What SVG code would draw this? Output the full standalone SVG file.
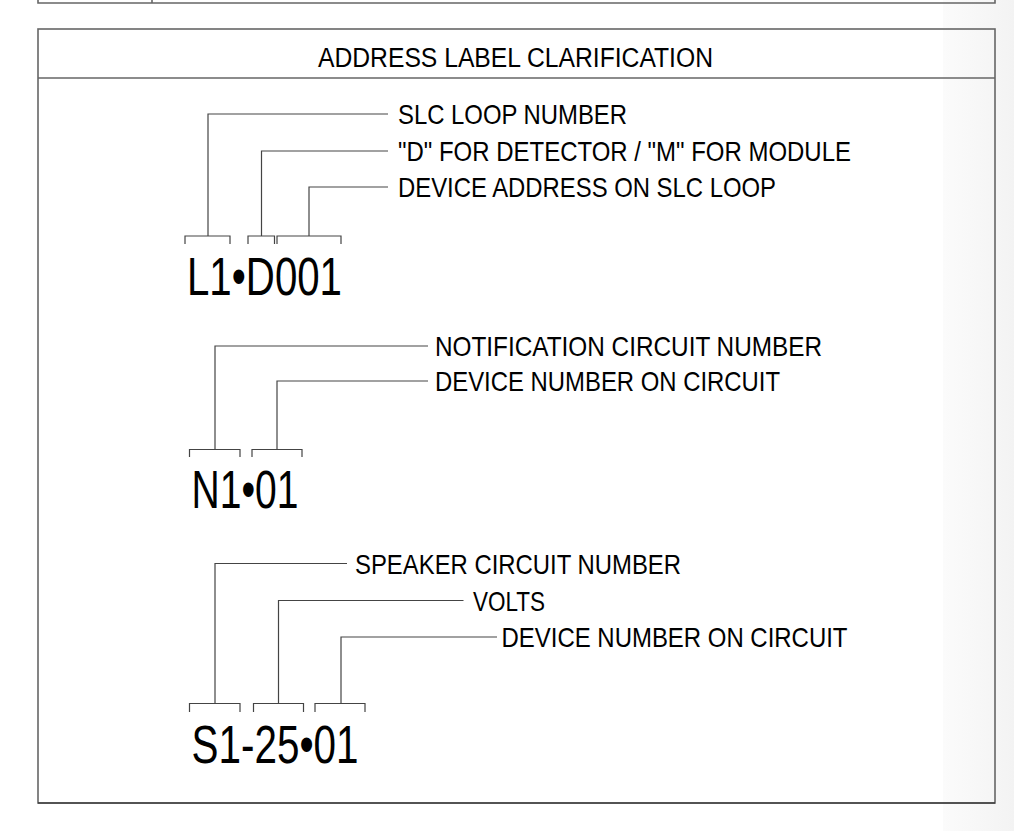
<svg xmlns="http://www.w3.org/2000/svg" width="1014" height="831" viewBox="0 0 1014 831">
<defs>
<linearGradient id="shade" x1="943" y1="0" x2="1014" y2="0" gradientUnits="userSpaceOnUse">
<stop offset="0" stop-color="#fbfbfb"/>
<stop offset="1" stop-color="#f3f3f3"/>
</linearGradient>
<style>
.ln{fill:none;stroke:#444;stroke-width:1.2}
.frame{fill:none;stroke:#666;stroke-width:1.6}
.t{font-family:"Liberation Sans",Arial,sans-serif;fill:#000}
.lbl{font-size:28px}
.big{font-size:53px}
.ttl{font-size:27px}
</style>
</defs>
<rect x="0" y="0" width="1014" height="831" fill="#fff"/>
<rect x="943" y="0" width="71" height="831" fill="url(#shade)"/>
<g id="top-frame">
<path class="frame" d="M38 -5 V3 H995 V-5"/>
<line class="frame" x1="152" y1="0" x2="152" y2="3"/>
</g>
<g id="main-frame">
<rect class="frame" x="38" y="29" width="957" height="774"/>
<line class="frame" x1="38" y1="78" x2="995" y2="78"/>
<line x1="38" y1="803" x2="995" y2="803" stroke="#222" stroke-width="1.2"/>
</g>
<g id="title">
<text class="t ttl" x="318" y="66.5" textLength="395" lengthAdjust="spacingAndGlyphs">ADDRESS  LABEL CLARIFICATION</text>
</g>
<g id="connectors">
<path class="ln" d="M208 236 V114 H388"/>
<path class="ln" d="M261.5 236 V151 H388"/>
<path class="ln" d="M309 236 V187 H388"/>
<path class="ln" d="M215 449.5 V346 H428"/>
<path class="ln" d="M277 449.5 V381 H428"/>
<path class="ln" d="M215 703.5 V563.5 H347"/>
<path class="ln" d="M278.5 703.5 V600.5 H463.5"/>
<path class="ln" d="M341 703.5 V637 H497"/>
</g>
<g id="address-L1D001">
<path class="ln" d="M185 244 V236 H230 V244"/>
<path class="ln" d="M248 244 V236 H274.5 V244"/>
<path class="ln" d="M277 244 V236 H341 V244"/>
<text class="t big" x="187" y="295" textLength="155" lengthAdjust="spacingAndGlyphs">L1•D001</text>
</g>
<g id="label-slc-loop"><text class="t lbl" x="398" y="124" textLength="229" lengthAdjust="spacingAndGlyphs">SLC LOOP NUMBER</text></g>
<g id="label-d-m"><text class="t lbl" x="398" y="161" textLength="453" lengthAdjust="spacingAndGlyphs">"D" FOR DETECTOR / "M" FOR MODULE</text></g>
<g id="label-device-address"><text class="t lbl" x="398" y="197" textLength="378" lengthAdjust="spacingAndGlyphs">DEVICE ADDRESS ON SLC LOOP</text></g>
<g id="address-N101">
<path class="ln" d="M189.5 457 V449.5 H240 V457"/>
<path class="ln" d="M252 457 V449.5 H302 V457"/>
<text class="t big" x="191.5" y="508" textLength="107" lengthAdjust="spacingAndGlyphs">N1•01</text>
</g>
<g id="label-notification"><text class="t lbl" x="435" y="356" textLength="387" lengthAdjust="spacingAndGlyphs">NOTIFICATION CIRCUIT NUMBER</text></g>
<g id="label-device-number-n"><text class="t lbl" x="435" y="391" textLength="345" lengthAdjust="spacingAndGlyphs">DEVICE NUMBER ON CIRCUIT</text></g>
<g id="address-S12501">
<path class="ln" d="M189.5 712 V703.5 H240 V712"/>
<path class="ln" d="M253.5 712 V703.5 H303.5 V712"/>
<path class="ln" d="M315 712 V703.5 H365 V712"/>
<text class="t big" x="191.5" y="763" textLength="167" lengthAdjust="spacingAndGlyphs">S1-25•01</text>
</g>
<g id="label-speaker"><text class="t lbl" x="355" y="573.5" textLength="326" lengthAdjust="spacingAndGlyphs">SPEAKER CIRCUIT NUMBER</text></g>
<g id="label-volts"><text class="t lbl" x="473" y="610.5" textLength="72" lengthAdjust="spacingAndGlyphs">VOLTS</text></g>
<g id="label-device-number-s"><text class="t lbl" x="501.5" y="647" textLength="346" lengthAdjust="spacingAndGlyphs">DEVICE NUMBER ON CIRCUIT</text></g>
</svg>
